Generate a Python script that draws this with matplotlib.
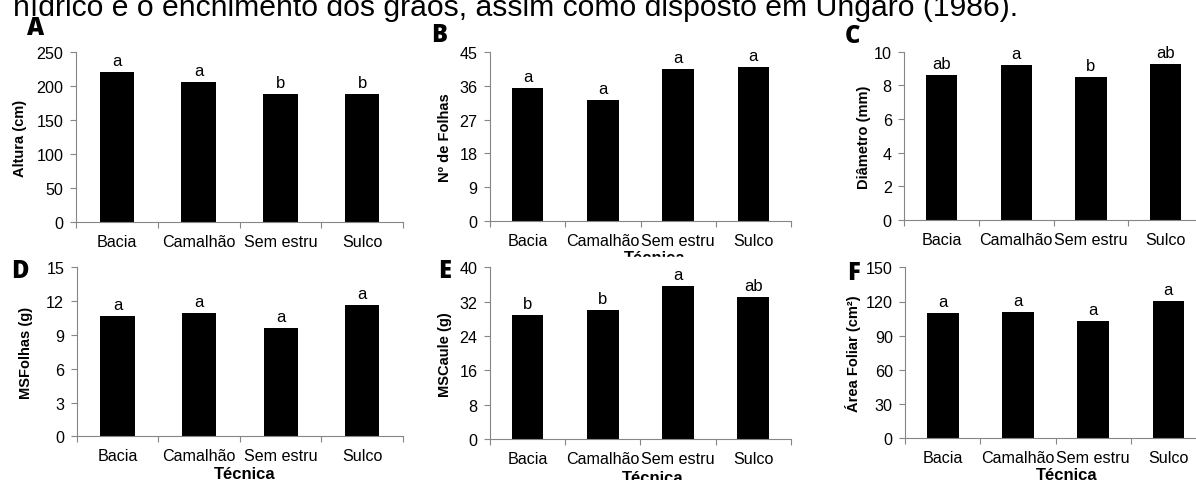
import matplotlib
matplotlib.use("Agg")
from matplotlib import pyplot as plt
from matplotlib.patches import Rectangle
import numpy as np

plt.rcParams["font.family"] = ["Liberation Sans", "DejaVu Sans"]

# dados das técnicas de preparo do solo
tecnicas = ["Bacia", "Camalhão", "Sem estru", "Sulco"]

altura = [220.6, 205.9, 188.7, 188.7]
letras_altura = ["a", "a", "b", "b"]

folhas = [35.4, 32.3, 40.6, 41.1]
letras_folhas = ["a", "a", "a", "a"]

diametro = [8.6, 9.2, 8.5, 9.27]
letras_diametro = ["ab", "a", "b", "ab"]

ms_folhas = [10.65, 10.94, 9.6, 11.65]
letras_ms_folhas = ["a", "a", "a", "a"]

ms_caule = [28.9, 30.05, 35.6, 33.1]
letras_ms_caule = ["b", "b", "a", "ab"]

area_foliar = [109.9, 110.8, 102.9, 120.4]
letras_area = ["a", "a", "a", "a"]

W, H = 1196, 481
cinza = "#868686"


def box(l, t, r, b):
    return [l / W, 1 - b / H, (r - l) / W, (b - t) / H]


fig = plt.figure(figsize=(W / 100, H / 100), dpi=100)

# linha de texto do documento acima das figuras
fig.text(13 / W, 1 - 16 / H,
         "hídrico e o enchimento dos grãos, assim como disposto em Ungaro (1986).",
         fontsize=21.7, va="baseline", ha="left")


def painel(pos, valores, letras, ymax, yticks, ylabel, ylab_x, letra, letra_xy,
           xlabel=None, xlab_x=0.54, xlab_top=None, z=0):
    ax = fig.add_axes(box(*pos), zorder=z)
    x = np.arange(len(valores))
    ax.bar(x, valores, width=0.42, color="black")
    ax.set_xlim(-0.5, len(valores) - 0.5)
    ax.set_ylim(0, ymax)
    ax.set_yticks(yticks)
    ax.set_xticks(x)
    ax.set_xticklabels(tecnicas)
    ax.set_xticks(np.arange(-0.5, len(valores)), minor=True)
    ax.tick_params(axis="x", which="major", length=0, pad=8.5, labelsize=11.6)
    ax.tick_params(axis="x", which="minor", length=4, width=0.8, color=cinza, direction="out")
    ax.tick_params(axis="y", length=4, width=0.8, color=cinza, pad=5, labelsize=11.6)
    for s in ["top", "right"]:
        ax.spines[s].set_visible(False)
    for s in ["left", "bottom"]:
        ax.spines[s].set_color(cinza)
        ax.spines[s].set_linewidth(0.8)
    ax.set_ylabel(ylabel, fontsize=10.5, fontweight="bold")
    ax.yaxis.set_label_coords(ylab_x, 0.5)
    for xi, v, l in zip(x, valores, letras):
        ax.annotate(l, (xi, v), xytext=(0, 5), textcoords="offset points",
                    ha="center", va="baseline", fontsize=12)
    if xlabel:
        ax.set_xlabel(xlabel, fontsize=12, fontweight="bold")
        altura_px = pos[3] - pos[1]
        ax.xaxis.set_label_coords(xlab_x, -(xlab_top - pos[3]) / altura_px)
    fig.text(letra_xy[0] / W, 1 - letra_xy[1] / H, letra, fontsize=17,
             fontweight="heavy", family="Open Sans", ha="left", va="baseline")
    return ax


painel((76, 53.3, 403, 223.3), altura, letras_altura, 250, range(0, 251, 50),
       "Altura (cm)", -0.15, "A", (27, 35))
painel((490, 53.3, 791, 221.7), folhas, letras_folhas, 45, range(0, 46, 9),
       "Nº de Folhas", -0.127, "B", (431, 42),
       xlabel="Técnica", xlab_x=0.548, xlab_top=251, z=0)
painel((904.3, 52.7, 1203, 221), diametro, letras_diametro, 10, range(0, 11, 2),
       "Diâmetro (mm)", -0.111, "C", (845, 43))

# faixa branca que recorta o rótulo do painel B
fig.add_artist(Rectangle((400 / W, 0), 400 / W, 1 - 258 / H,
                         transform=fig.transFigure, color="white", zorder=1))

painel((76.7, 268.3, 403, 437.3), ms_folhas, letras_ms_folhas, 15, range(0, 16, 3),
       "MSFolhas (g)", -0.133, "D", (11, 278),
       xlabel="Técnica", xlab_x=0.516, xlab_top=467, z=2)
painel((490, 268.3, 790.7, 440), ms_caule, letras_ms_caule, 40, range(0, 41, 8),
       "MSCaule (g)", -0.127, "E", (438, 278),
       xlabel="Técnica", xlab_x=0.54, xlab_top=471, z=2)
painel((905.3, 268.3, 1206, 439.3), area_foliar, letras_area, 150, range(0, 151, 30),
       "Área Foliar (cm²)", -0.147, "F", (847, 280),
       xlabel="Técnica", xlab_x=0.537, xlab_top=468, z=2)

fig.savefig("out.png", dpi=100)
